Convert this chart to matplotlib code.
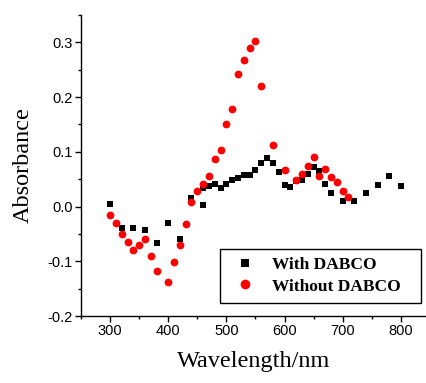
import matplotlib
matplotlib.use("Agg")
import matplotlib.pyplot as plt
from matplotlib.ticker import MultipleLocator
from matplotlib.patches import Rectangle

with_x = [300, 320, 340, 360, 380, 400, 420, 440, 460, 460, 470, 480, 490, 500, 510, 520, 530, 540, 550,
          560, 570, 580, 590, 600, 610, 620, 630, 640, 650, 660, 670, 680, 700, 720, 740, 760, 780, 800]
with_y = [0.004, -0.040, -0.040, -0.042, -0.066, -0.030, -0.060, 0.015, 0.002, 0.033, 0.038, 0.041, 0.033,
          0.041, 0.048, 0.053, 0.057, 0.057, 0.066, 0.080, 0.088, 0.079, 0.063, 0.039, 0.036, 0.046, 0.048,
          0.060, 0.073, 0.065, 0.042, 0.024, 0.011, 0.011, 0.024, 0.040, 0.055, 0.038]

without_x = [300, 310, 320, 330, 340, 350, 360, 370, 380, 400, 410, 420, 430, 440, 450, 460, 470, 480,
             490, 500, 510, 520, 530, 540, 550, 560, 580, 600, 620, 630, 640, 650, 660, 670, 680, 690, 700, 710]
without_y = [-0.015, -0.030, -0.051, -0.065, -0.079, -0.071, -0.059, -0.091, -0.118, -0.137, -0.101,
             -0.070, -0.031, 0.008, 0.028, 0.042, 0.056, 0.087, 0.103, 0.151, 0.178, 0.243, 0.268, 0.289,
             0.303, 0.221, 0.113, 0.067, 0.048, 0.060, 0.074, 0.091, 0.055, 0.069, 0.054, 0.045, 0.028, 0.018]

W, H = 427, 383
fig = plt.figure(figsize=(W / 100, H / 100), dpi=100)
ax = fig.add_axes([81 / W, (H - 316) / H, 1 - 81 / W, (316 - 15) / H])

ax.plot(with_x, with_y, linestyle="none", marker="s", markersize=5.0, color="black",
        markeredgewidth=0, label="With DABCO")
ax.plot(without_x, without_y, linestyle="none", marker="o", markersize=5.6, color="#ff0000",
        markeredgewidth=0, label="Without DABCO")

ax.set_xlim(250, 845)
ax.set_ylim(-0.2, 0.35)
ax.xaxis.set_major_locator(MultipleLocator(100))
ax.xaxis.set_minor_locator(MultipleLocator(50))
ax.yaxis.set_major_locator(MultipleLocator(0.1))
ax.yaxis.set_minor_locator(MultipleLocator(0.05))
ax.set_yticks([-0.2, -0.1, 0.0, 0.1, 0.2, 0.3])
ax.set_yticklabels(["-0.2", "-0.1", "0.0", "0.1", "0.2", "0.3"])
ax.set_xticks([300, 400, 500, 600, 700, 800])

for s in ["top", "right"]:
    ax.spines[s].set_visible(False)
for s in ["left", "bottom"]:
    ax.spines[s].set_linewidth(1.0)

ax.tick_params(which="major", direction="out", length=4, width=1.0,
               labelsize=10.5, pad=2)
ax.tick_params(which="minor", direction="out", length=2.5, width=1.0)
for lab in ax.get_xticklabels() + ax.get_yticklabels():
    lab.set_fontfamily("Liberation Sans")

ax.set_xlabel("Wavelength/nm", fontfamily="Liberation Serif", fontsize=17.5, labelpad=9)
ax.set_ylabel("Absorbance", fontfamily="Liberation Serif", fontsize=17.5, labelpad=10)

leg = ax.legend(loc="upper left", bbox_to_anchor=(236 / W, 1 - 257 / H),
                bbox_transform=fig.transFigure, frameon=False,
                prop={"family": "Liberation Serif", "weight": "bold", "size": 12.5},
                handletextpad=1.1, borderpad=0, labelspacing=0.3, handlelength=1.0,
                borderaxespad=0, markerscale=1.25)
fig.add_artist(Rectangle((220 / W, 1 - 303 / H), 201 / W, 54 / H, transform=fig.transFigure,
                         fill=False, edgecolor="black", linewidth=1.0))

fig.savefig("out.png", dpi=100)
